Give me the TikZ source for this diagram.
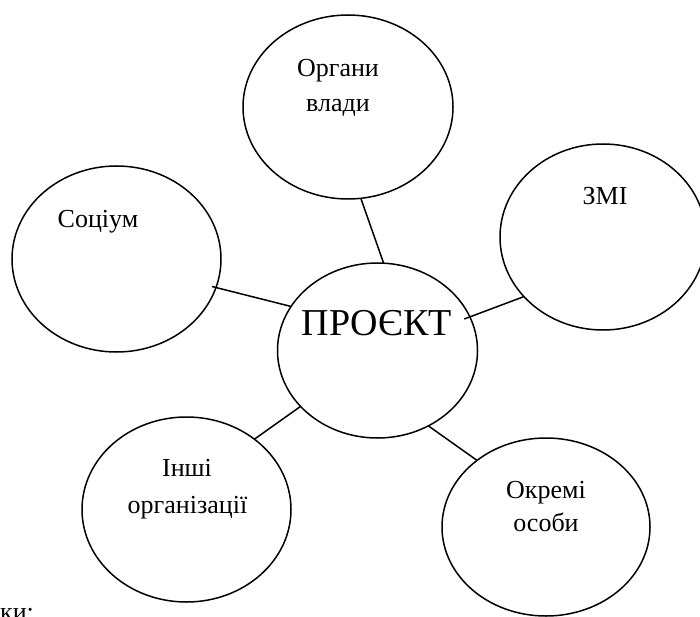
\documentclass[tikz,border=0pt]{standalone}
\usepackage{fontspec}
\setmainfont{Liberation Serif}
\usetikzlibrary{shapes.geometric}
\begin{document}
\begin{tikzpicture}[x=1pt,y=-1pt,
  bubble/.style={draw, ellipse, line width=1.5pt, inner sep=0pt, outer sep=0pt},
  lbl/.style={anchor=base, inner sep=0pt, font=\fontsize{26}{30}\selectfont},
  biglbl/.style={anchor=base, inner sep=0pt, font=\fontsize{38}{44}\selectfont},
  link/.style={line width=1.5pt}]
\useasboundingbox (0,0) rectangle (700,617);
\clip (0,0) rectangle (700,617);
% ellipses
\node[bubble, minimum width=210, minimum height=184] (org) at (348,107) {};
\node[bubble, minimum width=209, minimum height=186] (soc) at (116.5,259) {};
\node[bubble, minimum width=206, minimum height=186] (zmi) at (603,237) {};
\node[bubble, minimum width=200, minimum height=175] (proj) at (377.5,350.5) {};
\node[bubble, minimum width=209, minimum height=185] (inshi) at (186.5,509.5) {};
\node[bubble, minimum width=208, minimum height=178] (okr) at (546,527) {};
% labels
\node[lbl] (orgA) at (338,77) {Органи};
\node[lbl] (orgB) at (338,112) {влади};
\node[lbl] (zmiA) at (605,205) {ЗМІ};
\node[lbl] (socA) at (98,228) {Соціум};
\node[biglbl] (projA) at (377,335) {ПРОЄКТ};
\node[lbl] (inshiA) at (187,476) {Інші};
\node[lbl] (inshiB) at (187.5,513) {організації};
\node[lbl] (okrA) at (546,498) {Окремі};
\node[lbl] (okrB) at (546,531) {особи};
\node[lbl, anchor=base west] (tail) at (0,620) {ки:};
% connectors
\draw[link] (org.-82.6) -- (proj.86.4);
\draw[link, shorten <=-4pt] (soc.-16.7) -- (proj.153.6);
\draw[link, shorten <=-6pt] (proj.20.4) -- (zmi.217);
\draw[link] (inshi.46.2) -- (proj.216.6);
\draw[link] (proj.-56.4) -- (okr.136.3);
\end{tikzpicture}
\end{document}
